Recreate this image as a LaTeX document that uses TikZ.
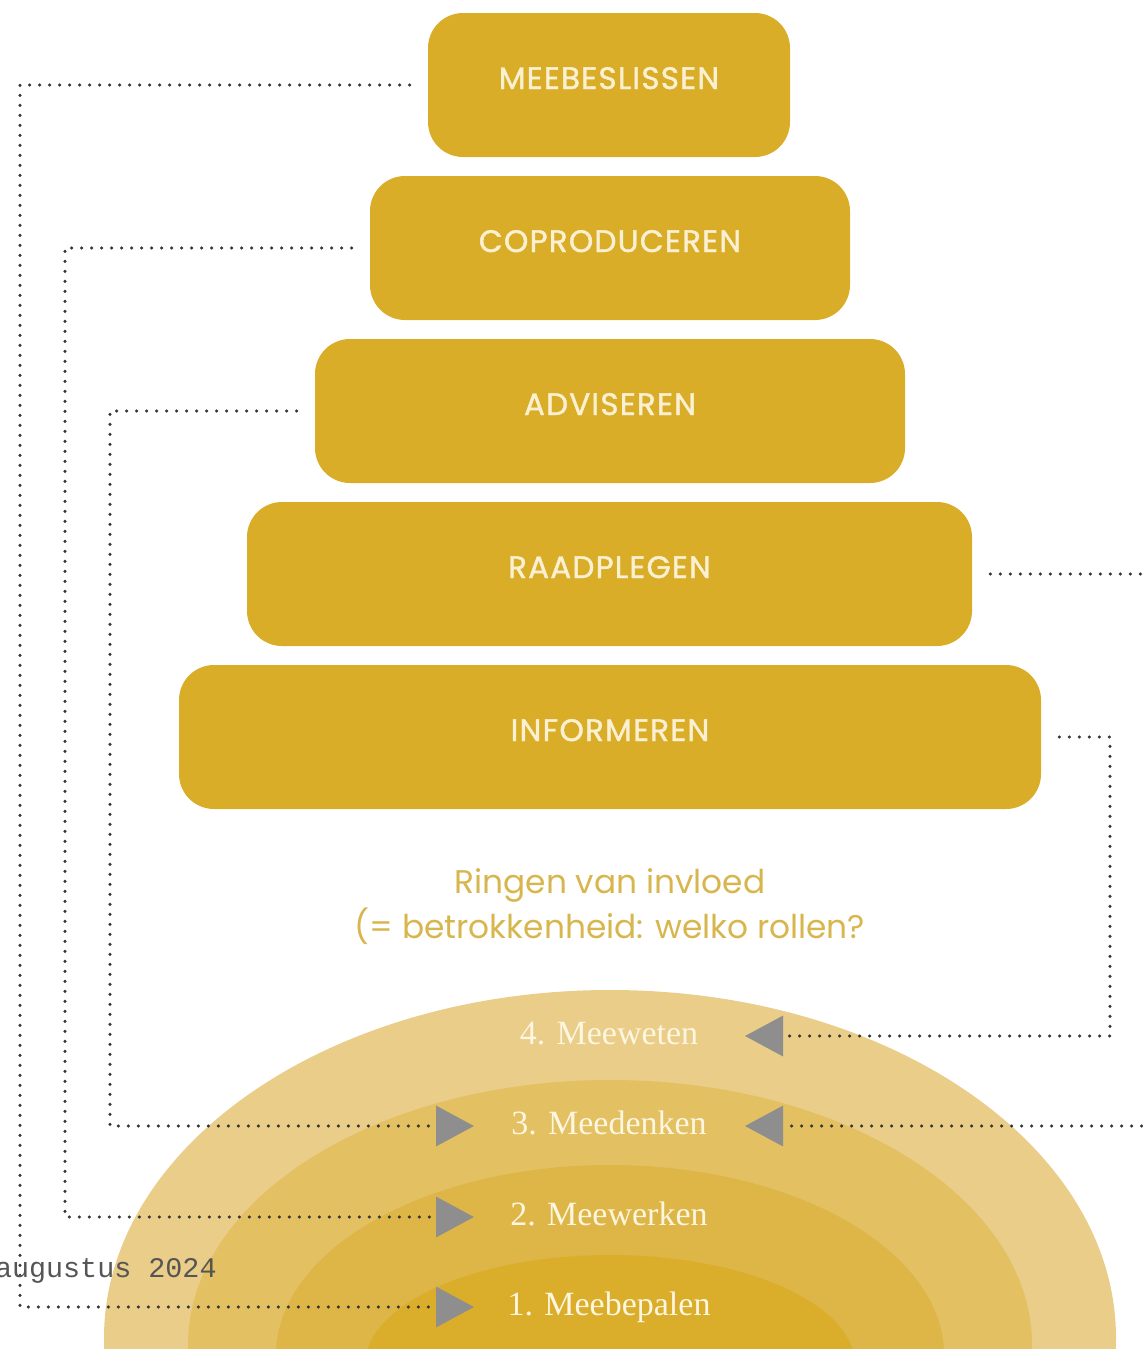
\documentclass[tikz,border=0pt]{standalone}
\usepackage{fontspec}
\usetikzlibrary{calc,arrows.meta}

\newfontfamily\boxfont{Poppins}[FakeBold=1.3, LetterSpace=4]
\newfontfamily\titlefont{Poppins}
\newfontfamily\ringfont{Liberation Serif}
\newfontfamily\datefont{Liberation Mono}

\definecolor{boxgold}{HTML}{D9AD28}
\definecolor{boxtext}{HTML}{FBF0D2}
\definecolor{titlegold}{HTML}{D8B64E}
\definecolor{ringA}{HTML}{E9CD88}
\definecolor{ringB}{HTML}{E3C062}
\definecolor{ringC}{HTML}{DEB647}
\definecolor{ringD}{HTML}{DAAD2A}
\definecolor{ringtext}{HTML}{FDF6E0}
\definecolor{tipgray}{HTML}{8E8E8E}
\definecolor{dotgray}{HTML}{353535}
\definecolor{dategray}{HTML}{555555}

\tikzset{
    stage/.style={rectangle, rounded corners=17.5pt, fill=boxgold, text=boxtext,
        minimum height=72pt, text height=11pt, text depth=7pt,
        font=\boxfont\fontsize{15.5}{18}\selectfont},
    ringlabel/.style={text=ringtext, text height=12pt, text depth=4pt,
        font=\ringfont\fontsize{17}{20}\selectfont},
    link/.style={draw=dotgray, line width=1.7pt, line cap=round,
        dash pattern=on 0pt off 5pt, shorten <=9pt,
        -{Triangle[length=19pt,width=20pt,color=tipgray]}}
}

\begin{document}
\begin{tikzpicture}[x=0.5pt,y=-0.5pt]
            \clip (0,0) rectangle (1143,1349);

            \fill[ringA] (610,1338) ellipse [x radius=253pt, y radius=174pt];
            \fill[ringB] (610,1345) ellipse [x radius=211pt, y radius=132.5pt];
            \fill[ringC] (610,1355) ellipse [x radius=167pt, y radius=95pt];
            \fill[ringD] (610,1365) ellipse [x radius=122.5pt, y radius=55pt];

            \node (meeweten) at (609,1036) [ringlabel] {4. Meeweten};
            \node (meedenken) at (609,1126) [ringlabel] {3. Meedenken};
            \node (meewerken) at (609,1217) [ringlabel] {2. Meewerken};
            \node (meebepalen) at (609,1307) [ringlabel] {1. Meebepalen};

            \node (beslissen) at (609,85) [stage, minimum width=181pt] {MEEBESLISSEN};
            \node (coproduceren) at (610,248) [stage, minimum width=240pt] {COPRODUCEREN};
            \node (adviseren) at (610,411) [stage, minimum width=295pt] {ADVISEREN};
            \node (raadplegen) at (609.5,574) [stage, minimum width=362.5pt] {RAADPLEGEN};
            \node (informeren) at (610,737) [stage, minimum width=431pt] {INFORMEREN};

            \node (titel) at (610,907) [text=titlegold, align=center,
                font=\titlefont\fontsize{16.4}{22.5}\selectfont]
                {Ringen van invloed\\(= betrokkenheid: welko rollen?};

            \coordinate (railA) at (20,0);
            \coordinate (railB) at (65,0);
            \coordinate (railC) at (110,0);
            \coordinate (railD) at (1160,0);
            \coordinate (railE) at (1110,0);

            \draw[link] (beslissen.west) -- (beslissen.west -| railA) |- ($(meebepalen)+(-135,0)$);
            \draw[link] (coproduceren.west) -- (coproduceren.west -| railB) |- ($(meewerken)+(-135,0)$);
            \draw[link] (adviseren.west) -- (adviseren.west -| railC) |- ($(meedenken)+(-135,0)$);
            \draw[link] (raadplegen.east) -- (raadplegen.east -| railD) |- ($(meedenken)+(136,0)$);
            \draw[link] (informeren.east) -- (informeren.east -| railE) |- ($(meeweten)+(136,0)$);

            \node (datum) at (217,1271) [anchor=east, inner sep=0pt, text=dategray,
                font=\datefont\fontsize{14.2}{16}\selectfont] {augustus 2024};

        \end{tikzpicture}
\end{document}
